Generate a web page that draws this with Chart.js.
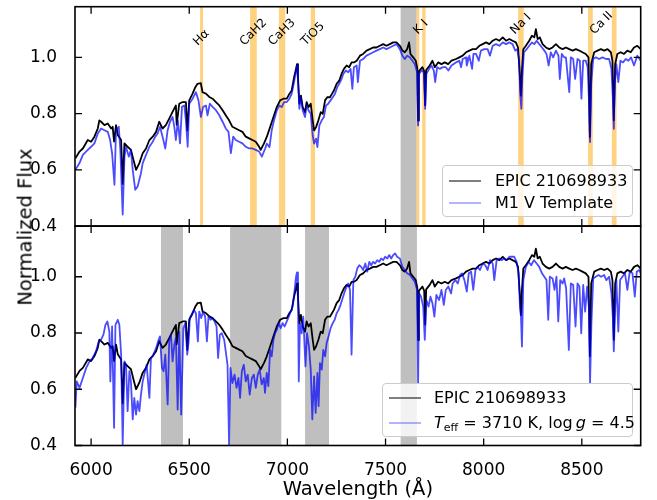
<!DOCTYPE html>
<html>
<head>
<meta charset="utf-8">
<script src="https://cdn.jsdelivr.net/npm/chart.js@4.4.1/dist/chart.umd.min.js"></script>
<style>
  html, body { margin: 0; padding: 0; background: #fff; }
  #wrap { position: relative; width: 657px; height: 500px; font-family: "DejaVu Sans", sans-serif; }
  #chart { position: absolute; left: 0; top: 0; }
  .ytitle { position: absolute; left: 25px; top: 227px; transform: translate(-50%, -50%) rotate(-90deg);
            font-size: 19.5px; white-space: nowrap; color: #000; }
  .legend { position: absolute; background: rgba(255,255,255,0.8); border: 1px solid #cccccc;
            border-radius: 4px; box-sizing: border-box; }
  .row { position: absolute; left: 0; right: 0; height: 0; }
  .swatch { position: absolute; width: 32px; height: 0; transform: translateY(-50%); }
  .label { position: absolute; transform: translateY(-50%); font-size: 16px; white-space: nowrap; line-height: 1; color: #000; }
  .label sub { font-size: 11px; vertical-align: -3px; line-height: 0; }
</style>
</head>
<body>
<div id="wrap">
  <canvas id="chart" width="657" height="500"></canvas>
  <div class="ytitle">Normalized Flux</div>

  <div class="legend" style="left:442px; top:165px; width:191px; height:52px;">
    <div class="row" style="top:15px;">
      <div class="swatch" style="left:6px; border-top:1.8px solid #000;"></div>
      <div class="label" style="left:52px;">EPIC 210698933</div>
    </div>
    <div class="row" style="top:36.5px;">
      <div class="swatch" style="left:6px; border-top:1.8px solid rgba(0,0,255,0.6);"></div>
      <div class="label" style="left:52px;">M1 V Template</div>
    </div>
  </div>

  <div class="legend" style="left:382px; top:383px; width:251px; height:54px;">
    <div class="row" style="top:13.5px;">
      <div class="swatch" style="left:6px; border-top:1.8px solid #000;"></div>
      <div class="label" style="left:51px;">EPIC 210698933</div>
    </div>
    <div class="row" style="top:38.5px;">
      <div class="swatch" style="left:6px; border-top:1.8px solid rgba(0,0,255,0.6);"></div>
      <div class="label" style="left:51px;"><i>T</i><sub>eff</sub> = 3710 K, log&#8201;<i>g</i> = 4.5</div>
    </div>
  </div>
</div>

<script>
// observed spectrum, shown in both panels: [wavelength (Å), normalized flux]
const epicSpectrum = [
  [5920,0.641],[5941,0.665],[5958,0.676],[5983,0.706],[6000,0.700],[6017,0.718],[6034,0.747],[6042,0.776],
  [6051,0.771],[6068,0.759],[6085,0.765],[6102,0.747],[6110,0.753],[6117,0.700],[6127,0.759],[6136,0.724],
  [6153,0.706],[6161,0.550],[6170,0.694],[6186,0.682],[6203,0.671],[6220,0.624],[6229,0.600],[6246,0.624],
  [6263,0.659],[6280,0.676],[6297,0.706],[6314,0.718],[6331,0.735],[6347,0.771],[6364,0.747],[6381,0.759],
  [6398,0.782],[6415,0.806],[6432,0.829],[6436,0.760],[6449,0.835],[6466,0.841],[6483,0.841],[6490,0.740],
  [6500,0.847],[6517,0.871],[6531,0.894],[6542,0.906],[6559,0.908],[6568,0.876],[6585,0.871],[6602,0.859],
  [6619,0.853],[6636,0.841],[6653,0.829],[6670,0.812],[6686,0.794],[6703,0.776],[6720,0.753],[6737,0.747],
  [6754,0.741],[6771,0.735],[6788,0.718],[6805,0.712],[6822,0.706],[6839,0.700],[6856,0.682],[6864,0.671],
  [6881,0.694],[6895,0.717],[6912,0.752],[6929,0.788],[6946,0.823],[6963,0.847],[6980,0.853],[6997,0.853],
  [7010,0.870],[7022,0.882],[7034,0.929],[7044,0.959],[7049,0.976],[7054,0.929],[7061,0.835],[7069,0.864],
  [7078,0.823],[7090,0.805],[7098,0.841],[7108,0.823],[7119,0.835],[7129,0.776],[7136,0.740],[7146,0.752],
  [7158,0.776],[7170,0.805],[7180,0.799],[7192,0.847],[7203,0.858],[7217,0.858],[7227,0.870],[7237,0.882],
  [7251,0.906],[7264,0.917],[7276,0.941],[7288,0.959],[7302,0.971],[7315,0.965],[7327,0.982],[7339,0.982],
  [7353,0.988],[7370,1.006],[7386,1.012],[7403,1.024],[7420,1.029],[7437,1.035],[7454,1.035],[7471,1.041],
  [7488,1.047],[7505,1.041],[7522,1.047],[7539,1.053],[7556,1.053],[7573,1.041],[7586,1.024],[7598,1.018],
  [7610,1.029],[7620,1.053],[7627,1.012],[7641,1.000],[7654,0.988],[7662,0.960],[7666,0.775],[7670,0.950],
  [7688,0.965],[7697,0.950],[7702,0.830],[7707,0.955],[7725,0.971],[7739,0.988],[7751,0.965],[7768,0.982],
  [7785,0.976],[7802,0.982],[7819,0.976],[7836,0.988],[7859,0.994],[7876,1.000],[7893,1.006],[7910,1.018],
  [7927,1.024],[7944,1.029],[7961,1.029],[7978,1.041],[7995,1.047],[8012,1.053],[8029,1.047],[8046,1.059],
  [8063,1.065],[8080,1.059],[8097,1.071],[8114,1.059],[8131,1.065],[8147,1.059],[8164,1.053],[8175,1.035],
  [8185,0.929],[8190,0.864],[8195,0.953],[8202,1.029],[8215,1.041],[8232,1.059],[8246,1.077],[8258,1.071],
  [8266,1.100],[8275,1.065],[8286,1.071],[8300,1.047],[8317,1.035],[8334,1.029],[8351,1.035],[8368,1.047],
  [8385,1.035],[8402,1.029],[8419,1.035],[8436,1.029],[8453,1.024],[8470,1.029],[8487,1.024],[8503,1.018],
  [8520,1.012],[8534,1.000],[8541,0.717],[8548,0.976],[8563,1.018],[8580,1.024],[8597,1.029],[8614,1.024],
  [8631,1.029],[8648,1.018],[8656,0.988],[8663,0.776],[8670,0.976],[8681,1.012],[8698,1.018],[8715,1.012],
  [8732,1.024],[8749,1.018],[8766,1.035],[8783,1.041],[8800,1.029]
];

// M1 V template (top panel)
const templateSpectrum = [
  [5920,0.600],[5941,0.624],[5958,0.653],[5983,0.671],[6000,0.682],[6017,0.694],[6034,0.729],[6051,0.747],
  [6068,0.741],[6085,0.735],[6097,0.706],[6107,0.659],[6119,0.547],[6127,0.741],[6141,0.753],[6149,0.671],
  [6161,0.441],[6170,0.647],[6178,0.682],[6192,0.647],[6203,0.671],[6212,0.600],[6225,0.529],[6237,0.541],
  [6254,0.588],[6263,0.624],[6280,0.653],[6297,0.682],[6314,0.700],[6327,0.718],[6339,0.729],[6351,0.753],
  [6364,0.718],[6378,0.676],[6390,0.741],[6402,0.771],[6415,0.788],[6424,0.753],[6432,0.706],[6442,0.776],
  [6453,0.694],[6463,0.824],[6475,0.829],[6483,0.776],[6492,0.682],[6500,0.835],[6517,0.853],[6534,0.876],
  [6547,0.847],[6559,0.788],[6571,0.824],[6585,0.829],[6593,0.794],[6605,0.835],[6619,0.824],[6636,0.812],
  [6653,0.794],[6670,0.771],[6686,0.747],[6700,0.735],[6712,0.659],[6724,0.718],[6737,0.706],[6754,0.700],
  [6771,0.694],[6788,0.682],[6805,0.676],[6822,0.676],[6839,0.671],[6856,0.665],[6870,0.647],[6887,0.676],
  [6895,0.693],[6909,0.681],[6920,0.740],[6932,0.776],[6946,0.811],[6959,0.829],[6971,0.823],[6983,0.841],
  [6997,0.841],[7010,0.853],[7022,0.870],[7034,0.912],[7044,0.953],[7049,0.971],[7054,0.917],[7061,0.817],
  [7069,0.858],[7078,0.811],[7090,0.788],[7098,0.829],[7108,0.811],[7119,0.799],[7129,0.723],[7136,0.693],
  [7146,0.711],[7153,0.681],[7163,0.758],[7175,0.776],[7186,0.788],[7197,0.829],[7208,0.835],[7220,0.847],
  [7231,0.858],[7242,0.870],[7254,0.894],[7264,0.906],[7276,0.923],[7285,0.941],[7298,0.953],[7310,0.947],
  [7322,0.959],[7331,0.888],[7339,0.965],[7353,0.971],[7359,0.912],[7370,0.988],[7386,0.994],[7403,1.006],
  [7420,1.012],[7437,1.018],[7454,1.024],[7471,1.029],[7488,1.035],[7505,1.029],[7522,1.035],[7539,1.041],
  [7556,1.047],[7573,1.029],[7586,1.006],[7598,0.994],[7610,1.006],[7624,1.000],[7637,0.988],[7649,0.976],
  [7661,0.947],[7666,0.758],[7671,0.941],[7683,0.953],[7695,0.947],[7702,0.817],[7708,0.941],[7722,0.959],
  [7734,0.971],[7746,0.953],[7753,0.912],[7763,0.965],[7776,0.959],[7793,0.965],[7807,0.965],[7820,0.953],
  [7836,0.971],[7859,0.982],[7876,0.988],[7885,0.965],[7893,0.994],[7910,1.000],[7914,0.971],[7927,1.006],
  [7941,0.959],[7948,1.012],[7961,1.012],[7975,0.988],[7986,1.024],[8003,1.029],[8020,1.029],[8032,1.006],
  [8046,1.041],[8063,1.047],[8080,1.041],[8097,1.053],[8114,1.047],[8131,1.053],[8147,1.047],[8161,1.024],
  [8171,1.029],[8181,0.988],[8186,0.870],[8192,0.817],[8197,0.929],[8205,1.018],[8219,1.029],[8232,1.041],
  [8246,1.053],[8258,1.047],[8270,1.059],[8283,1.047],[8297,1.035],[8309,1.024],[8320,1.012],[8331,0.971],
  [8342,1.018],[8354,1.000],[8368,1.024],[8381,1.006],[8388,0.923],[8398,1.012],[8410,1.000],[8419,1.000],
  [8436,0.876],[8444,1.000],[8456,0.994],[8466,0.923],[8478,0.994],[8490,0.988],[8498,0.853],[8507,0.988],
  [8520,0.988],[8530,0.965],[8537,0.835],[8542,0.699],[8548,0.906],[8558,0.994],[8571,1.000],[8588,0.994],
  [8605,1.000],[8624,0.994],[8639,0.994],[8651,0.959],[8658,0.858],[8663,0.746],[8668,0.906],[8676,0.976],
  [8686,0.912],[8697,0.988],[8710,0.982],[8724,0.994],[8737,0.988],[8751,1.000],[8766,0.971],[8783,1.006],
  [8800,0.988]
];

// best-fit model, Teff = 3710 K, log g = 4.5 (bottom panel)
const modelSpectrum = [
  [5920,0.534],[5927,0.628],[5941,0.605],[5958,0.640],[5975,0.676],[5992,0.699],[6008,0.711],[6025,0.735],
  [6039,0.770],[6051,0.776],[6063,0.794],[6073,0.829],[6083,0.841],[6093,0.805],[6098,0.628],[6107,0.823],
  [6117,0.463],[6124,0.829],[6136,0.847],[6144,0.829],[6153,0.723],[6161,0.404],[6170,0.699],[6178,0.687],
  [6186,0.522],[6195,0.664],[6203,0.628],[6212,0.493],[6220,0.569],[6229,0.510],[6237,0.558],[6246,0.522],
  [6254,0.581],[6263,0.628],[6271,0.652],[6283,0.687],[6297,0.569],[6305,0.711],[6317,0.723],[6331,0.746],
  [6344,0.776],[6351,0.788],[6361,0.676],[6369,0.664],[6378,0.723],[6390,0.546],[6398,0.770],[6407,0.794],
  [6415,0.699],[6424,0.758],[6432,0.782],[6441,0.528],[6449,0.805],[6459,0.510],[6470,0.817],[6480,0.835],
  [6490,0.723],[6497,0.770],[6503,0.853],[6514,0.864],[6524,0.882],[6534,0.870],[6544,0.770],[6551,0.876],
  [6561,0.853],[6571,0.876],[6581,0.858],[6590,0.770],[6598,0.858],[6609,0.847],[6619,0.853],[6629,0.841],
  [6639,0.823],[6647,0.711],[6656,0.794],[6666,0.799],[6678,0.776],[6686,0.735],[6695,0.687],[6703,0.404],
  [6710,0.676],[6720,0.622],[6731,0.652],[6741,0.605],[6751,0.640],[6759,0.569],[6768,0.664],[6778,0.687],
  [6788,0.628],[6798,0.652],[6808,0.581],[6819,0.640],[6829,0.652],[6839,0.605],[6849,0.652],[6859,0.670],
  [6869,0.617],[6880,0.640],[6886,0.587],[6895,0.658],[6903,0.611],[6912,0.740],[6920,0.717],[6929,0.776],
  [6937,0.799],[6946,0.811],[6956,0.835],[6966,0.817],[6976,0.835],[6986,0.823],[6997,0.841],[7007,0.858],
  [7017,0.876],[7027,0.894],[7037,0.953],[7044,1.000],[7049,1.015],[7054,0.941],[7058,0.628],[7064,0.835],
  [7073,0.799],[7081,0.858],[7092,0.681],[7100,0.799],[7110,0.752],[7119,0.670],[7127,0.493],[7136,0.646],
  [7144,0.516],[7153,0.658],[7159,0.540],[7166,0.693],[7175,0.670],[7183,0.740],[7192,0.717],[7200,0.764],
  [7210,0.788],[7220,0.817],[7231,0.835],[7241,0.847],[7251,0.870],[7261,0.882],[7271,0.900],[7281,0.923],
  [7292,0.947],[7302,0.965],[7310,0.976],[7319,0.953],[7327,0.723],[7336,0.988],[7346,1.000],[7356,1.029],
  [7366,1.041],[7376,1.035],[7386,1.024],[7397,1.047],[7407,1.018],[7417,1.053],[7427,1.041],[7437,1.053],
  [7447,1.047],[7458,1.059],[7468,1.053],[7478,1.065],[7488,1.059],[7498,1.071],[7509,1.065],[7519,1.077],
  [7529,1.065],[7539,1.077],[7549,1.083],[7559,1.071],[7573,1.065],[7586,1.035],[7598,1.024],[7610,1.012],
  [7624,1.006],[7637,0.994],[7649,0.982],[7661,0.953],[7666,0.622],[7671,0.941],[7681,0.929],[7692,0.894],
  [7700,0.776],[7708,0.917],[7719,0.894],[7729,0.929],[7739,0.906],[7749,0.858],[7759,0.935],[7773,0.917],
  [7785,0.953],[7797,0.900],[7807,0.953],[7820,0.965],[7834,0.941],[7842,0.976],[7856,0.988],[7868,0.976],
  [7880,1.006],[7890,1.012],[7902,0.988],[7914,0.947],[7924,1.012],[7936,1.018],[7947,0.953],[7958,1.024],
  [7969,1.035],[7981,1.024],[7995,1.047],[8008,1.041],[8020,1.024],[8032,1.059],[8046,1.047],[8054,0.988],
  [8066,1.059],[8080,1.065],[8093,1.059],[8105,1.065],[8117,1.059],[8131,1.071],[8144,1.071],[8156,1.071],
  [8168,1.053],[8178,1.012],[8185,0.894],[8190,0.858],[8195,0.752],[8202,0.988],[8215,1.035],[8229,1.053],
  [8242,1.041],[8256,1.059],[8270,1.047],[8283,1.035],[8297,1.012],[8309,1.000],[8320,0.988],[8329,0.847],
  [8337,1.000],[8351,0.994],[8361,0.953],[8371,1.000],[8380,0.841],[8390,0.988],[8402,0.976],[8410,0.994],
  [8420,0.959],[8434,0.740],[8444,0.976],[8456,0.971],[8468,0.823],[8478,0.976],[8488,0.965],[8497,0.799],
  [8507,0.971],[8517,0.876],[8527,0.965],[8536,0.894],[8542,0.622],[8549,0.835],[8558,0.994],[8571,1.000],
  [8585,1.006],[8598,1.000],[8614,1.006],[8625,0.988],[8639,1.000],[8651,0.941],[8658,0.858],[8663,0.735],
  [8670,0.894],[8676,0.988],[8686,0.805],[8695,0.988],[8707,1.000],[8720,1.012],[8732,0.953],[8744,1.018],
  [8758,1.012],[8770,0.929],[8780,1.018],[8792,1.024],[8800,1.012]
];

// shaded wavelength ranges [start, end] in Å
const telluricBandTop = [[7577, 7658]];
const featureBands = [[6555,6570],[6810,6844],[6957,6989],[7119,7141],[7658,7672],[7687,7704],[8176,8204],[8532,8556],[8653,8677]];
const excludedBandsBottom = [[6356,6468],[6708,6969],[7090,7212],[7577,7660]];

// feature labels in the top panel
const featureNames = ['Hα', 'CaH2', 'CaH3', 'TiO5', 'K I', 'Na I', 'Ca II'];
const featureWave  = [6562, 6827, 6973, 7130, 7680, 8190, 8600];
const featureFlux  = [1.037, 1.037, 1.037, 1.037, 1.077, 1.077, 1.077];

const xTicks = [6000, 6500, 7000, 7500, 8000, 8500];
const yTicks = [0.4, 0.6, 0.8, 1.0];

const toXY = pairs => pairs.map(([x, y]) => ({ x, y }));

const FONT = "'DejaVu Sans', sans-serif";
const BLUE = 'rgba(0,0,255,0.7)';

const panelDecor = {
    id: 'panelDecor',
    beforeDatasetsDraw(chart) {
        const { ctx } = chart;
        const x = chart.scales.x;
        const shade = (yScale, bands, fill) => {
            bands.forEach(([a, b]) => {
                const x0 = x.getPixelForValue(a), x1 = x.getPixelForValue(b);
                ctx.fillStyle = fill;
                ctx.fillRect(x0, yScale.top, x1 - x0, yScale.bottom - yScale.top);
            });
        };
        ctx.save();
        shade(chart.scales.yTop, telluricBandTop, 'rgba(128,128,128,0.5)');
        shade(chart.scales.yTop, featureBands, 'rgba(255,165,0,0.5)');
        shade(chart.scales.yBot, excludedBandsBottom, 'rgba(128,128,128,0.5)');
        ctx.restore();
    },
    afterDatasetsDraw(chart) {
        const { ctx } = chart;
        const x = chart.scales.x;
        const tickLen = 7;
        ctx.save();
        ctx.strokeStyle = '#000';
        [chart.scales.yTop, chart.scales.yBot].forEach(y => {
            // inward ticks on all four sides
            ctx.lineWidth = 1.3;
            ctx.beginPath();
            xTicks.forEach(v => {
                const px = x.getPixelForValue(v);
                ctx.moveTo(px, y.top); ctx.lineTo(px, y.top + tickLen);
                ctx.moveTo(px, y.bottom); ctx.lineTo(px, y.bottom - tickLen);
            });
            yTicks.forEach(v => {
                const py = y.getPixelForValue(v);
                ctx.moveTo(x.left, py); ctx.lineTo(x.left + tickLen, py);
                ctx.moveTo(x.right, py); ctx.lineTo(x.right - tickLen, py);
            });
            ctx.stroke();
            ctx.lineWidth = 1.6;
            ctx.strokeRect(x.left, y.top, x.right - x.left, y.bottom - y.top);
        });

        // rotated feature labels
        const yTop = chart.scales.yTop;
        ctx.fillStyle = '#000';
        ctx.font = '12px ' + FONT;
        ctx.textAlign = 'center';
        ctx.textBaseline = 'middle';
        featureNames.forEach((name, i) => {
            const w = ctx.measureText(name).width;
            const extent = (w + 9) * Math.SQRT1_2;
            const cx = x.getPixelForValue(featureWave[i]);
            const cy = yTop.getPixelForValue(featureFlux[i]) - extent / 2;
            ctx.save();
            ctx.translate(cx, cy);
            ctx.rotate(-Math.PI / 4);
            ctx.fillText(name, 0, 0);
            ctx.restore();
        });
        ctx.restore();
    }
};

const yAxis = () => ({
    type: 'linear',
    position: 'left',
    stack: 'panels',
    stackWeight: 1,
    min: 0.4,
    max: 1.18,
    grid: { display: false },
    border: { display: false },
    ticks: {
        color: '#000',
        font: { family: FONT, size: 17 },
        padding: 10,
        callback: v => v.toFixed(1)
    },
    afterBuildTicks: s => { s.ticks = yTicks.map(value => ({ value })); },
    afterFit: s => {
        s.width = 75;
        s.paddingTop = 0; s.paddingBottom = 0;
    }
});

const line = (data, yAxisID, color, order) => ({
    data, yAxisID, order,
    borderColor: color,
    borderWidth: 1.8,
    borderJoinStyle: 'round',
    pointRadius: 0,
    tension: 0,
    fill: false
});

new Chart(document.getElementById('chart'), {
    type: 'line',
    data: {
        datasets: [
            line(toXY(epicSpectrum), 'yTop', '#000', 2),
            line(toXY(templateSpectrum), 'yTop', BLUE, 1),
            line(toXY(epicSpectrum), 'yBot', '#000', 2),
            line(toXY(modelSpectrum), 'yBot', BLUE, 1)
        ]
    },
    options: {
        responsive: false,
        animation: false,
        layout: { padding: { top: 6.7, right: 16.3, bottom: 0, left: 0 } },
        plugins: { legend: { display: false }, tooltip: { enabled: false } },
        scales: {
            x: {
                type: 'linear',
                position: 'bottom',
                min: 5918,
                max: 8800,
                grid: { display: false },
                border: { display: false },
                ticks: {
                    color: '#000',
                    font: { family: FONT, size: 17 },
                    padding: 7,
                    maxRotation: 0,
                    autoSkip: false,
                    callback: v => String(v)
                },
                afterBuildTicks: s => { s.ticks = xTicks.map(value => ({ value })); },
                title: {
                    display: true,
                    text: 'Wavelength (Å)',
                    color: '#000',
                    font: { family: FONT, size: 19.5, lineHeight: 1 },
                    padding: { top: 0, bottom: 0 }
                },
                afterFit: s => {
                    s.height = 54.5;
                    s.paddingLeft = 0; s.paddingRight = 0;
                }
            },
            yBot: yAxis(),
            yTop: yAxis()
        }
    },
    plugins: [panelDecor]
});
</script>
</body>
</html>
